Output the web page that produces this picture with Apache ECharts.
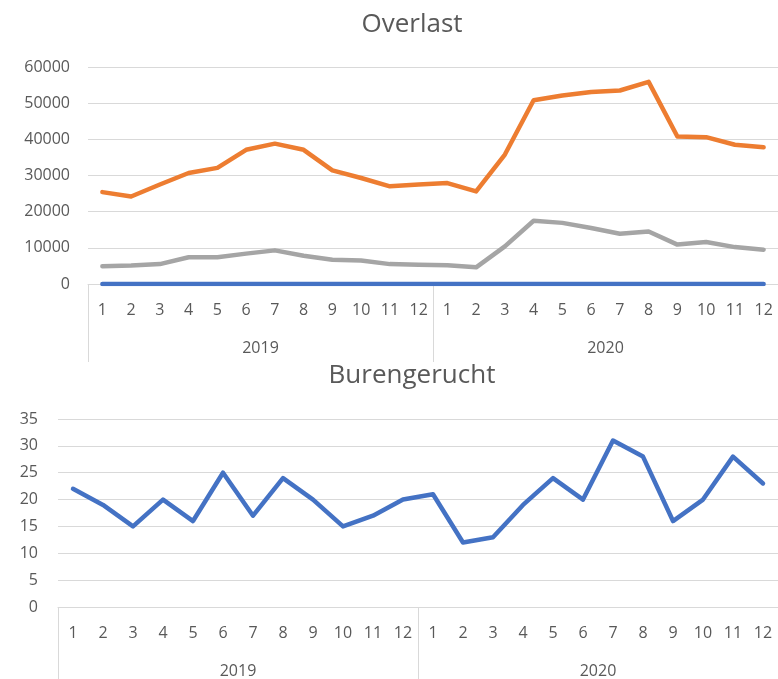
<!DOCTYPE html>
<html>
<head>
<meta charset="utf-8">
<script src="https://cdn.jsdelivr.net/npm/echarts@6/dist/echarts.min.js"></script>
<style>html,body{margin:0;padding:0;background:#fff}#c{width:778px;height:679px}</style>
</head>
<body>
<div id="c"></div>
<script>
const months = ['1','2','3','4','5','6','7','8','9','10','11','12','1','2','3','4','5','6','7','8','9','10','11','12'];
const years = ['2019','2020'];
const overlastOrange = [25400,24200,27500,30700,32100,37100,38800,37100,31400,29300,27000,27500,27900,25600,35800,50800,52100,53100,53500,55900,40800,40600,38500,37800];
const overlastGray = [4900,5100,5500,7400,7400,8400,9300,7800,6700,6500,5500,5300,5200,4600,10400,17500,16900,15500,13900,14500,10900,11600,10200,9500];
const burengerucht = [22,19,15,20,16,25,17,24,20,15,17,20,21,12,13,19,24,20,31,28,16,20,28,23];
const titles = ['Overlast','Burengerucht'];

const FONT = 'Open Sans';
const TXT = '#595959';
const GRIDC = '#d9d9d9';

function monthAxis(gi){
  return {type:'category', gridIndex:gi, data:months, position:'bottom', boundaryGap:true,
    axisLine:{show:true, lineStyle:{color:GRIDC, width:1}},
    axisTick:{show:false},
    axisLabel:{interval:0, margin:18, color:TXT, fontSize:16, fontFamily:FONT}};
}
function yearAxis(gi, len){
  return {type:'category', gridIndex:gi, data:years, position:'bottom', boundaryGap:true,
    axisLine:{show:false},
    axisTick:{show:true, interval:0, length:len, lineStyle:{color:GRIDC, width:1}},
    axisLabel:{interval:0, margin:56, color:TXT, fontSize:16, fontFamily:FONT}};
}
function valAxis(gi, max, interval, margin){
  return {type:'value', gridIndex:gi, min:0, max:max, interval:interval,
    axisLine:{show:false}, axisTick:{show:false},
    splitLine:{lineStyle:{color:GRIDC, width:1}},
    axisLabel:{margin:margin, color:TXT, fontSize:16, fontFamily:FONT, formatter:function(v){return String(v);}}};
}
function line(name, data, color, xi, yi){
  return {name:name, type:'line', data:data, xAxisIndex:xi, yAxisIndex:yi,
    symbol:'none', smooth:false, lineStyle:{color:color, width:4.5, join:'round', cap:'round'},
    itemStyle:{color:color}, animation:false};
}

const chart = echarts.init(document.getElementById('c'), null, {renderer:'canvas'});
chart.setOption({
  backgroundColor:'#fff',
  animation:false,
  title:[
    {text:titles[0], left:407, top:7, textAlign:'center', textStyle:{color:TXT, fontSize:26, fontWeight:'normal', fontFamily:FONT}},
    {text:titles[1], left:407, top:358, textAlign:'center', textStyle:{color:TXT, fontSize:26, fontWeight:'normal', fontFamily:FONT}}
  ],
  grid:[
    {left:88, top:67, right:-4, height:217},
    {left:58, top:419, right:-4, height:188}
  ],
  xAxis:[monthAxis(0), yearAxis(0, 78), monthAxis(1), yearAxis(1, 80)],
  yAxis:[valAxis(0, 60000, 10000, 18), valAxis(1, 35, 5, 20)],
  series:[
    line('Overlast', overlastOrange, '#ED7D31', 0, 0),
    line('Overlast (2)', overlastGray, '#A5A5A5', 0, 0),
    line('Burengerucht', burengerucht, '#4472C4', 0, 0),
    line('Burengerucht', burengerucht, '#4472C4', 2, 1)
  ]
});
</script>
</body>
</html>
